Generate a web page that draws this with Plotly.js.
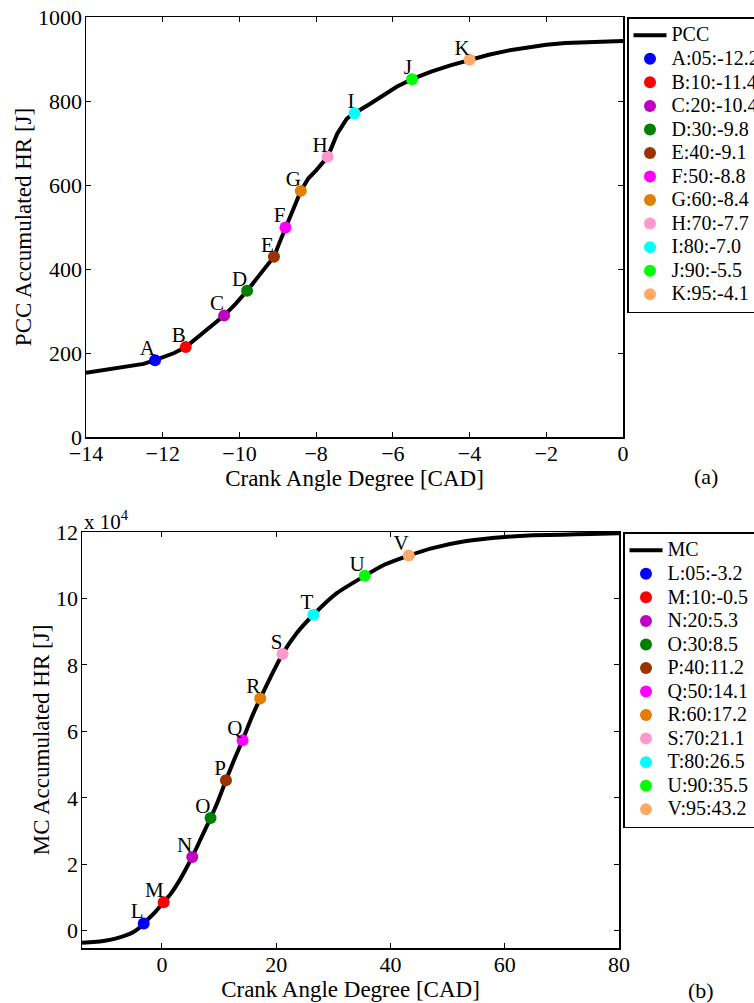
<!DOCTYPE html>
<html>
<head>
<meta charset="utf-8">
<script src="https://cdn.plot.ly/plotly-3.0.1.min.js"></script>
<style>
html,body{margin:0;padding:0;background:#fff;}
#chart{width:754px;height:1003px;}
</style>
</head>
<body>
<div id="chart"></div>
<script>
// ---------- Panel (a): PCC ----------
const pccCurveX = [-14,-13.5,-13,-12.5,-12.2,-12,-11.7,-11.4,-11,-10.7,-10.4,-10.1,-9.8,-9.5,-9.1,-8.95,-8.8,-8.6,-8.4,-8.2,-8.0,-7.7,-7.45,-7.2,-7.0,-6.6,-6.25,-5.9,-5.5,-5.0,-4.5,-4.0,-3.5,-3.0,-2.5,-2.0,-1.5,-1.0,-0.5,0];
const pccCurveY = [153,160,165,174,183,189,200,214,244,265,289,317,348,383,429,464,499,543,586,616,635,667,722,758,771,793,814,834,852,870,885,898,910,920,928,934,938,940,942,943];
const pccPointLabels = ["A","B","C","D","E","F","G","H","I","J","K"];
const pccPointX = [-12.2,-11.4,-10.4,-9.8,-9.1,-8.8,-8.4,-7.7,-7.0,-5.5,-4.0];
const pccPointY = [183,214,289,348,429,499,586,667,771,852,898];
const pccLegendNames = ["A:05:-12.2","B:10:-11.4","C:20:-10.4","D:30:-9.8","E:40:-9.1","F:50:-8.8","G:60:-8.4","H:70:-7.7","I:80:-7.0","J:90:-5.5","K:95:-4.1"];
const pccXTicks = [-14,-12,-10,-8,-6,-4,-2,0];
const pccYTicks = [0,200,400,600,800,1000];

// ---------- Panel (b): MC ----------
const mcCurveX = [-14,-12,-10,-8,-6,-5,-4,-3.2,-2,-1,0.3,1.5,2.8,4,5.3,6.8,8.5,9.8,11.2,12.6,14.1,15.6,17.2,19.2,21.1,23.6,26.5,30.6,35.5,39,43.2,47,53,60,65,70,75,80];
const mcCurveY = [-3600,-3400,-3000,-2300,-1200,-400,800,2200,4200,6000,8600,11000,14400,18000,22200,27700,33900,39000,45300,51300,57300,63800,69900,77000,83300,89600,95100,101600,106800,110200,112900,115000,117200,118500,119000,119200,119400,119600];
const mcPointLabels = ["L","M","N","O","P","Q","R","S","T","U","V"];
const mcPointX = [-3.2,0.3,5.3,8.5,11.2,14.1,17.2,21.1,26.5,35.5,43.2];
const mcPointY = [2200,8600,22200,33900,45300,57300,69900,83300,95100,106800,112900];
const mcLegendNames = ["L:05:-3.2","M:10:-0.5","N:20:5.3","O:30:8.5","P:40:11.2","Q:50:14.1","R:60:17.2","S:70:21.1","T:80:26.5","U:90:35.5","V:95:43.2"];
const mcXTicks = [0,20,40,60,80];
const mcYTickVals = [0,20000,40000,60000,80000,100000,120000];
const mcYTickText = ["0","2","4","6","8","10","12"];

const pointColors = ["#0000FF","#FF0000","#BF00BF","#007F00","#993300","#FF00FF","#E07F00","#FF99CC","#00FFFF","#00FF00","#FFAA66"];

const FONT = "Liberation Serif, Times New Roman, serif";
function big(s){ return '<span style="font-size:20px">' + s + '</span>'; }

const traces = [];
traces.push({x:pccCurveX, y:pccCurveY, mode:"lines", name:big("PCC"), line:{color:"#000", width:4}, xaxis:"x", yaxis:"y", legend:"legend"});
pccPointX.forEach((v,i)=>{
  traces.push({x:[v], y:[pccPointY[i]], mode:"markers", name:big(pccLegendNames[i]), marker:{color:pointColors[i], size:12}, xaxis:"x", yaxis:"y", legend:"legend"});
});
traces.push({x:pccPointX, y:pccPointY, mode:"text", text:pccPointLabels, textposition:"top left", textfont:{family:FONT, size:21, color:"#000"}, showlegend:false, xaxis:"x", yaxis:"y", hoverinfo:"skip"});

traces.push({x:mcCurveX, y:mcCurveY, mode:"lines", name:big("MC"), line:{color:"#000", width:4, shape:"spline", smoothing:0.5}, xaxis:"x2", yaxis:"y2", legend:"legend2"});
mcPointX.forEach((v,i)=>{
  traces.push({x:[v], y:[mcPointY[i]], mode:"markers", name:big(mcLegendNames[i]), marker:{color:pointColors[i], size:12}, xaxis:"x2", yaxis:"y2", legend:"legend2"});
});
traces.push({x:mcPointX, y:mcPointY, mode:"text", text:mcPointLabels, textposition:"top left", textfont:{family:FONT, size:21, color:"#000"}, showlegend:false, xaxis:"x2", yaxis:"y2", hoverinfo:"skip"});

const W = 754, H = 1003;
function dx(a,b){return [a/W, b/W];}
function dy(top,bot){return [1-bot/H, 1-top/H];}

const axisCommon = {
  showline:true, linecolor:"#000", linewidth:1.5, mirror:"ticks",
  ticks:"inside", ticklen:5, tickwidth:1, tickcolor:"#000",
  showgrid:false, zeroline:false,
  tickfont:{family:FONT, size:22, color:"#000"},
  automargin:false
};

const legendCommon = {
  bgcolor:"#fff", bordercolor:"#000", borderwidth:1.5,
  font:{family:FONT, size:15.8, color:"#000"},
  xanchor:"left", yanchor:"top", tracegroupgap:0, itemwidth:33, traceorder:"normal"
};

const layout = {
  width:W, height:H,
  paper_bgcolor:"#fff", plot_bgcolor:"#fff",
  margin:{l:0,r:0,t:0,b:0, autoexpand:false},
  showlegend:true,
  xaxis: Object.assign({}, axisCommon, {
    domain:dx(86,623), range:[-14,0], tickvals:pccXTicks, anchor:"y", ticklabelstandoff:-4,
    title:{text:"Crank Angle Degree [CAD]", font:{family:FONT, size:23, color:"#000"}, standoff:0}
  }),
  yaxis: Object.assign({}, axisCommon, {
    domain:dy(17,437), range:[0,1000], tickvals:pccYTicks, anchor:"x", ticklabelstandoff:-2,
    title:{text:"PCC Accumulated HR [J]", font:{family:FONT, size:23, color:"#000"}, standoff:0}
  }),
  xaxis2: Object.assign({}, axisCommon, {
    domain:dx(82,619), range:[-14,80], tickvals:mcXTicks, anchor:"y2", ticklabelstandoff:-4,
    title:{text:"Crank Angle Degree [CAD]", font:{family:FONT, size:23, color:"#000"}, standoff:0}
  }),
  yaxis2: Object.assign({}, axisCommon, {
    domain:dy(532,948), range:[-5200,120000], tickvals:mcYTickVals, ticktext:mcYTickText, anchor:"x2", ticklabelstandoff:-2,
    title:{text:"MC Accumulated HR [J]", font:{family:FONT, size:23, color:"#000"}, standoff:0}
  }),
  legend: Object.assign({}, legendCommon, {x:627/W, y:1-17/H}),
  legend2: Object.assign({}, legendCommon, {x:623/W, y:1-532/H}),
  annotations:[
    {xref:"paper", yref:"paper", x:706/W, y:1-476/H, text:"(a)", showarrow:false, xanchor:"center", yanchor:"middle", font:{family:FONT, size:22, color:"#000"}},
    {xref:"paper", yref:"paper", x:701/W, y:1-990/H, text:"(b)", showarrow:false, xanchor:"center", yanchor:"middle", font:{family:FONT, size:22, color:"#000"}},
    {xref:"paper", yref:"paper", x:82/W, y:1-520/H, text:"x 10<sup>4</sup>", showarrow:false, xanchor:"left", yanchor:"middle", font:{family:FONT, size:21, color:"#000"}}
  ]
};

Plotly.newPlot("chart", traces, layout, {displayModeBar:false, staticPlot:true});
</script>
</body>
</html>
